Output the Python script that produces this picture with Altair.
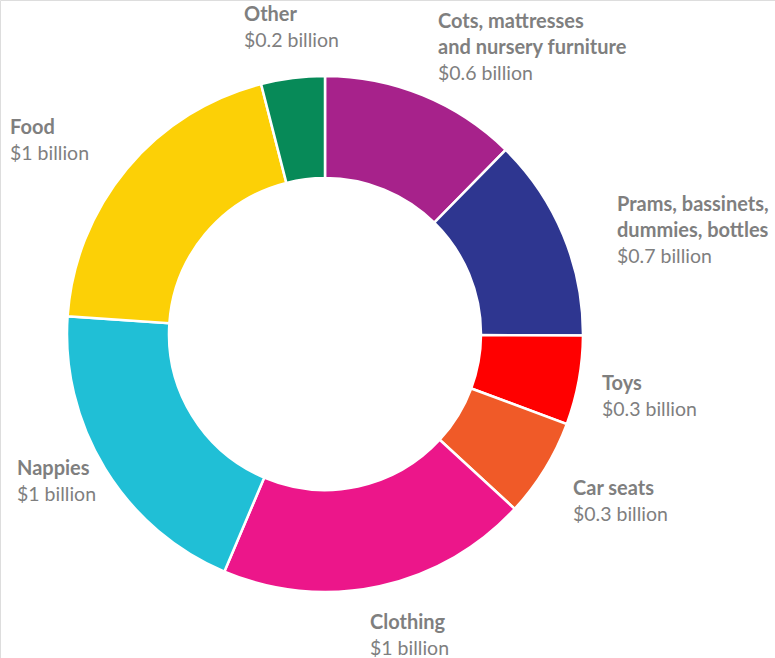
import altair as alt
import pandas as pd

categories = ["Cots, mattresses and nursery furniture", "Prams, bassinets, dummies, bottles",
              "Toys", "Car seats", "Clothing", "Nappies", "Food", "Other"]
values = [0.62, 0.64, 0.28, 0.31, 0.98, 0.99, 1.0, 0.2]
colors = ["#A7228B", "#2E3690", "#FF0000", "#F05A28", "#EC168A", "#20BFD6", "#FCD006", "#078A58"]

label_titles = [["Cots, mattresses", "and nursery furniture"], ["Prams, bassinets,", "dummies, bottles"],
                ["Toys"], ["Car seats"], ["Clothing"], ["Nappies"], ["Food"], ["Other"]]
label_values = ["$0.6 billion", "$0.7 billion", "$0.3 billion", "$0.3 billion",
                "$1 billion", "$1 billion", "$1 billion", "$0.2 billion"]

# layout: left x and centre y of first label line, per category
label_pos = [(438, 22), (617, 205), (602, 384), (573, 489), (370, 623), (17, 469), (10, 128), (244, 15)]
LINE = 26
CX, CY = 325, 334

df = pd.DataFrame({"category": categories, "value": values, "order": list(range(len(values)))})

rows = []
for i, cat in enumerate(categories):
    x0, y0 = label_pos[i]
    lines = label_titles[i]
    for j, t in enumerate(lines):
        rows.append({"x": x0, "y": y0 + j * LINE, "text": t, "bold": True})
    rows.append({"x": x0, "y": y0 + len(lines) * LINE, "text": label_values[i], "bold": False})
lab = pd.DataFrame(rows)

arcs = alt.Chart(df).mark_arc(innerRadius=156, outerRadius=258, stroke="white", strokeWidth=2.5).encode(
    theta=alt.Theta("value:Q", stack=True),
    order=alt.Order("order:Q"),
    color=alt.Color("category:N", scale=alt.Scale(domain=categories, range=colors), legend=None),
    x=alt.value(CX), y=alt.value(CY),
)

xenc = alt.X("x:Q", scale=alt.Scale(domain=[0, 775], range=[0, 775]), axis=None)
yenc = alt.Y("y:Q", scale=alt.Scale(domain=[0, 658], range=[0, 658]), axis=None)

bold = alt.Chart(lab).transform_filter("datum.bold").mark_text(
    align="left", baseline="middle", font="Lato", fontSize=20, fontWeight="bold", color="#7F7F7F"
).encode(x=xenc, y=yenc, text="text:N")
normal = alt.Chart(lab).transform_filter("!datum.bold").mark_text(
    align="left", baseline="middle", font="Lato", fontSize=19.5, color="#7F7F7F"
).encode(x=xenc, y=yenc, text="text:N")

chart = alt.layer(arcs, bold, normal).properties(
    width=775, height=658, autosize=alt.AutoSizeParams(type="none"), padding=0
).configure_view(stroke=None).configure(background="white")

chart.save("out.html", embed_options={"renderer": "svg", "actions": False})
